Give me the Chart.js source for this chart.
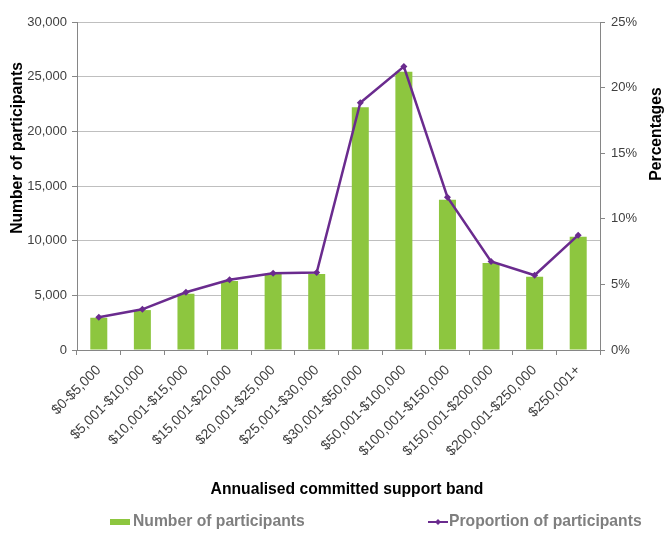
<!DOCTYPE html>
<html>
<head>
<meta charset="utf-8">
<script src="https://cdn.jsdelivr.net/npm/chart.js@4.4.1/dist/chart.umd.min.js"></script>
<style>
    html, body { margin: 0; padding: 0; background: #fff; }
    #wrap { position: relative; width: 664px; height: 535px; }
</style>
</head>
<body>
<div id="wrap"><canvas id="chartBand"></canvas></div>
<script>
// data
const bands = [
    "$0-$5,000", "$5,001-$10,000", "$10,001-$15,000", "$15,001-$20,000",
    "$20,001-$25,000", "$25,001-$30,000", "$30,001-$50,000", "$50,001-$100,000",
    "$100,001-$150,000", "$150,001-$200,000", "$200,001-$250,000", "$250,001+"
];
const participants = [2950, 3650, 5150, 6300, 6950, 6950, 22200, 25450, 13750, 7950, 6700, 10350];
const proportion = [2.5, 3.1, 4.4, 5.35, 5.85, 5.9, 18.85, 21.6, 11.65, 6.75, 5.7, 8.75];
const countTicks = [0, 5000, 10000, 15000, 20000, 25000, 30000];
const percentTicks = [0, 5, 10, 15, 20, 25];

const barLabel = "Number of participants";
const lineLabel = "Proportion of participants";
const xTitle = "Annualised committed support band";
const yTitle = "Number of participants";
const y1Title = "Percentages";

const green = "#8DC63F";
const purple = "#6A2B8E";
const axisGrey = "#868686";
const fontFamily = "'Liberation Sans', Arial, sans-serif";

// axis titles + legend drawn by hand so they sit where the original has them
const extraText = {
    id: "extraText",
    afterDraw(chart) {
        const ctx = chart.ctx;
        ctx.save();
        ctx.font = "bold 15.7px " + fontFamily;
        ctx.fillStyle = "#000";
        ctx.textAlign = "center";
        ctx.textBaseline = "middle";

        ctx.fillText(xTitle, 347, 490);

        ctx.save();
        ctx.translate(18, 148);
        ctx.rotate(-Math.PI / 2);
        ctx.fillText(yTitle, 0, 0);
        ctx.restore();

        ctx.save();
        ctx.translate(657, 134);
        ctx.rotate(-Math.PI / 2);
        ctx.fillText(y1Title, 0, 0);
        ctx.restore();

        // legend
        const ly = 522;
        ctx.fillStyle = green;
        ctx.fillRect(110, ly - 3, 20, 6);

        ctx.strokeStyle = purple;
        ctx.lineWidth = 2;
        ctx.beginPath();
        ctx.moveTo(428, ly);
        ctx.lineTo(448, ly);
        ctx.stroke();
        ctx.fillStyle = purple;
        ctx.beginPath();
        ctx.moveTo(438, ly - 3);
        ctx.lineTo(441, ly);
        ctx.lineTo(438, ly + 3);
        ctx.lineTo(435, ly);
        ctx.closePath();
        ctx.fill();

        ctx.fillStyle = "#7F7F7F";
        ctx.textAlign = "left";
        ctx.fillText(barLabel, 133, ly);
        ctx.fillText(lineLabel, 449, ly);
        ctx.restore();
    }
};

document.addEventListener("DOMContentLoaded", function () {
    const canvas = document.getElementById("chartBand");
    if (!canvas || typeof Chart === "undefined") return;

    new Chart(canvas, {
        type: "bar",
        data: {
            labels: bands,
            datasets: [{
                type: "line",
                label: lineLabel,
                data: proportion,
                yAxisID: "y1",
                order: 1,
                borderColor: purple,
                borderWidth: 2.5,
                tension: 0,
                pointStyle: "rectRot",
                pointRadius: 3.5,
                pointBackgroundColor: purple,
                pointBorderColor: purple,
                pointBorderWidth: 0
            }, {
                label: barLabel,
                data: participants,
                yAxisID: "y",
                order: 2,
                backgroundColor: green,
                barPercentage: 0.39,
                categoryPercentage: 1.0
            }]
        },
        options: {
            responsive: true,
            maintainAspectRatio: false,
            animation: false,
            layout: { padding: { top: 22, left: 0, right: 0, bottom: 0 } },
            plugins: {
                legend: { display: false },
                tooltip: { enabled: false }
            },
            scales: {
                x: {
                    afterFit: function (s) { s.height = 185; },
                    grid: {
                        offset: true,
                        drawOnChartArea: false,
                        drawTicks: true,
                        tickLength: 5,
                        color: axisGrey
                    },
                    border: { color: axisGrey },
                    ticks: {
                        autoSkip: false,
                        minRotation: 45,
                        maxRotation: 45,
                        padding: 7,
                        color: "#404040",
                        font: { family: fontFamily, size: 14 }
                    }
                },
                y: {
                    position: "left",
                    min: countTicks[0],
                    max: countTicks[countTicks.length - 1],
                    afterFit: function (s) { s.width = 77; },
                    afterBuildTicks: function (s) { s.ticks = countTicks.map(v => ({ value: v })); },
                    grid: { color: "#BFBFBF", tickColor: axisGrey, tickLength: 5 },
                    border: { color: axisGrey },
                    ticks: {
                        padding: 5,
                        color: "#404040",
                        font: { family: fontFamily, size: 13 },
                        callback: v => v.toLocaleString("en-US")
                    }
                },
                y1: {
                    position: "right",
                    min: percentTicks[0],
                    max: percentTicks[percentTicks.length - 1],
                    afterFit: function (s) { s.width = 64; },
                    afterBuildTicks: function (s) { s.ticks = percentTicks.map(v => ({ value: v })); },
                    grid: { drawOnChartArea: false, color: axisGrey, tickLength: 5 },
                    border: { color: axisGrey },
                    ticks: {
                        padding: 6,
                        color: "#404040",
                        font: { family: fontFamily, size: 13 },
                        callback: v => v + "%"
                    }
                }
            }
        },
        plugins: [extraText]
    });
});
</script>
</body>
</html>
